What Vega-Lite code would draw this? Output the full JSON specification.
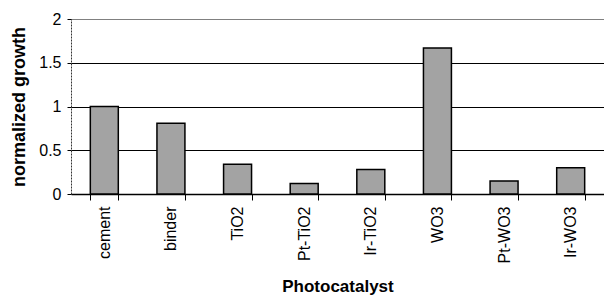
{
  "$schema": "https://vega.github.io/schema/vega-lite/v6.json",
  "autosize": {"type": "none"},
  "padding": {"left": 71, "top": 19, "right": 0, "bottom": 101},
  "width": 533,
  "height": 175,
  "config": {
    "view": {"stroke": null},
    "font": "Liberation Sans",
    "axis": {"labelColor": "black", "titleColor": "black", "labelFont": "Liberation Sans", "titleFont": "Liberation Sans"}
  },
  "data": {
    "values": [
      {"catalyst": "cement", "growth": 1.0},
      {"catalyst": "binder", "growth": 0.81},
      {"catalyst": "TiO2", "growth": 0.34},
      {"catalyst": "Pt-TiO2", "growth": 0.12},
      {"catalyst": "Ir-TiO2", "growth": 0.28},
      {"catalyst": "WO3", "growth": 1.67},
      {"catalyst": "Pt-WO3", "growth": 0.15},
      {"catalyst": "Ir-WO3", "growth": 0.3}
    ]
  },
  "mark": {"type": "bar", "fill": "#a3a3a3", "stroke": "black", "strokeWidth": 1.5},
  "encoding": {
    "x": {
      "field": "catalyst",
      "type": "nominal",
      "sort": null,
      "scale": {"paddingInner": 0.58, "paddingOuter": 0.29},
      "axis": {
        "title": "Photocatalyst",
        "titleFontSize": 17,
        "titleFontWeight": "bold",
        "titlePadding": 16,
        "labelAngle": -90,
        "labelFontSize": 16,
        "labelPadding": 6,
        "tickBand": "extent",
        "tickSize": 6,
        "tickColor": "black",
        "domainColor": "black",
        "domainWidth": 1.5,
        "grid": false
      }
    },
    "y": {
      "field": "growth",
      "type": "quantitative",
      "scale": {"domain": [0, 2], "nice": false},
      "axis": {
        "title": "normalized growth",
        "titleFontSize": 18,
        "titleFontWeight": "bold",
        "titlePadding": 10,
        "values": [0, 0.5, 1, 1.5, 2],
        "format": "~g",
        "labelFontSize": 16,
        "labelPadding": 6,
        "tickSize": 4,
        "tickColor": "black",
        "domainColor": "#333",
        "domainDash": [2, 1],
        "grid": true,
        "gridColor": "black",
        "gridOpacity": 1,
        "gridWidth": 1,
        "gridDash": {"condition": {"test": "datum.value == 2", "value": [1, 1]}, "value": []}
      }
    }
  }
}
